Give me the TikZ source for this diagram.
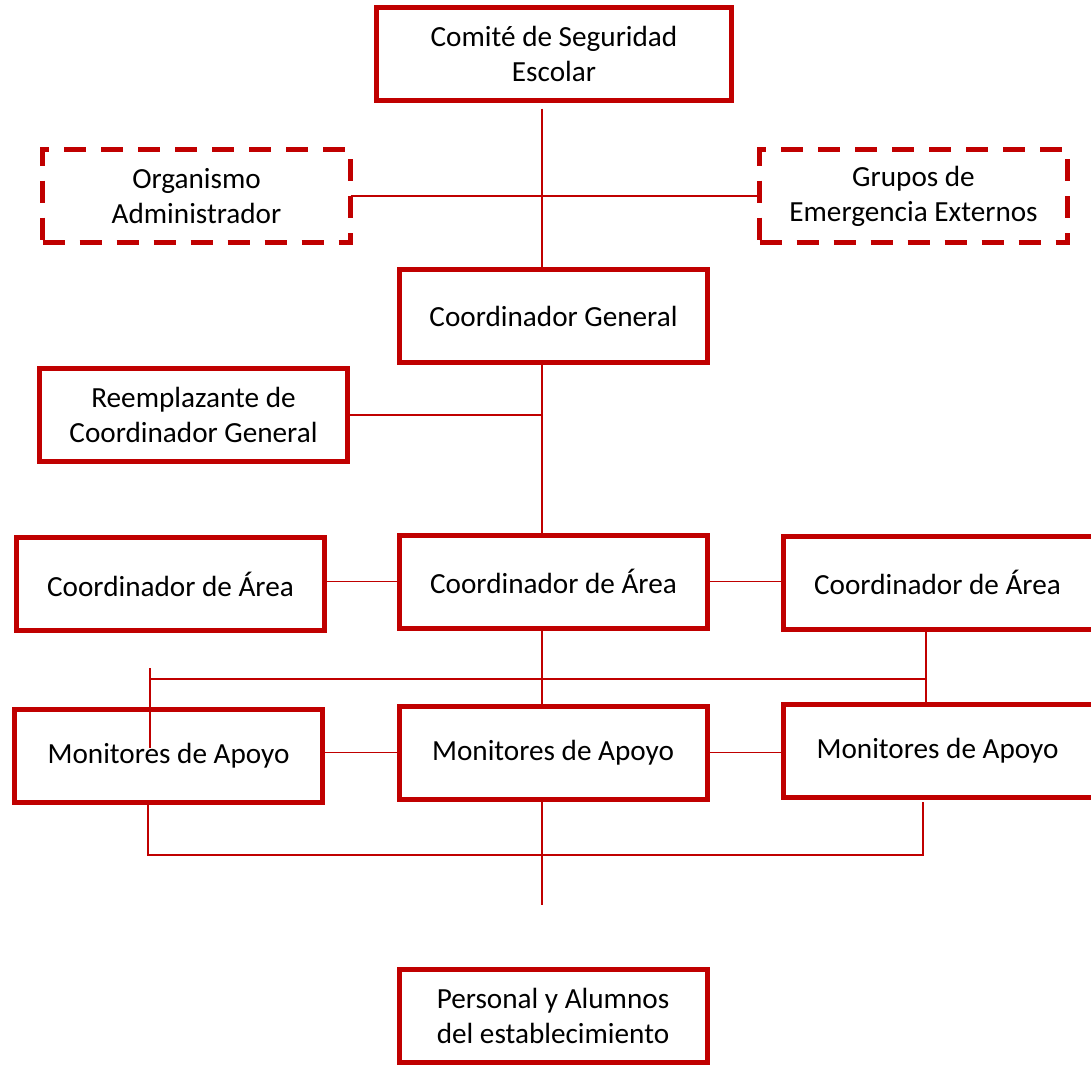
\documentclass[tikz,border=0pt]{standalone}
\usepackage{fontspec}
\setmainfont{Carlito}
\usetikzlibrary{calc}
\definecolor{boxred}{HTML}{C00000}
\tikzset{
  box/.style={draw=boxred, line width=5pt, rectangle, inner sep=0pt, outer sep=0pt,
    align=center, text=black, font=\fontsize{29.2}{35}\selectfont},
  solidbox/.style={box, minimum width=308pt, minimum height=93pt},
  dashbox/.style={box, minimum width=308pt, minimum height=93pt, dash pattern=on 22pt off 15pt},
  conn/.style={draw=boxred, line width=1.6pt}
}
\begin{document}
\begin{tikzpicture}[x=1pt,y=-1pt]
\useasboundingbox (0,0) rectangle (1091,1066);
% nodes
\node[box, minimum width=355pt, minimum height=93pt] (comite) at (554,54) {Comité de Seguridad\\Escolar};
\node[dashbox] (org) at (196.5,196) {Organismo\\Administrador};
\node[dashbox] (grp) at (913.5,196) {Grupos de\\Emergencia Externos};
\node[solidbox] (cgen) at (553.5,316) {Coordinador General};
\node[solidbox] (reemp) at (193.5,415) {Reemplazante de\\Coordinador General};
\node[solidbox] (areaL) at (170.5,584) {Coordinador de Área};
\node[solidbox] (areaC) at (553.5,581.5) {Coordinador de Área};
\node[solidbox, minimum width=313pt] (areaR) at (940,582.5) {Coordinador de Área\hspace*{5pt}};
\node[solidbox] (monL) at (168.5,755.5) {Monitores de Apoyo};
\node[solidbox] (monC) at (553,752.5) {Monitores de Apoyo};
\node[solidbox, minimum width=313pt] (monR) at (940,751) {Monitores de Apoyo\hspace*{5pt}};
\node[solidbox] (pers) at (553,1016) {Personal y Alumnos\\del establecimiento};
% helper coordinates
\coordinate (trunk) at (542,0);
\coordinate (rx) at (926,0);
\coordinate (hl) at (150,679);
\coordinate (hr) at (926,679);
\coordinate (lt) at (150,668);
\coordinate (lb) at (150,748);
\coordinate (bl) at (148,855);
\coordinate (br) at (923,855);
\coordinate (bx) at (148,0);
\coordinate (brx) at (923,0);
\coordinate (cend) at (542,905);
% connectors
\draw[conn] ($(comite.south -| trunk)+(0,8)$) -- (cgen.north -| trunk);
\draw[conn] (org.east) -- (grp.west);
\draw[conn] (cgen.south -| trunk) -- (areaC.north -| trunk);
\draw[conn] (reemp.east) -- (reemp.east -| trunk);
\draw[conn] (areaC.west) -- (areaC.west -| areaL.east);
\draw[conn] (areaC.east) -- (areaC.east -| areaR.west);
\draw[conn] (areaC.south -| trunk) -- (monC.north -| trunk);
\draw[conn] (areaR.south -| rx) -- (monR.north -| rx);
\draw[conn] (hl) -- (hr);
\draw[conn] (lt) -- (lb);
\draw[conn] (monC.west) -- (monC.west -| monL.east);
\draw[conn] (monC.east) -- (monC.east -| monR.west);
\draw[conn] ($(monL.south -| bx)+(0,3)$) -- (bl) -- (br) -- ($(monR.south -| brx)+(0,4)$);
\draw[conn] ($(monC.south -| trunk)+(0,2)$) -- (cend);
\end{tikzpicture}
\end{document}
